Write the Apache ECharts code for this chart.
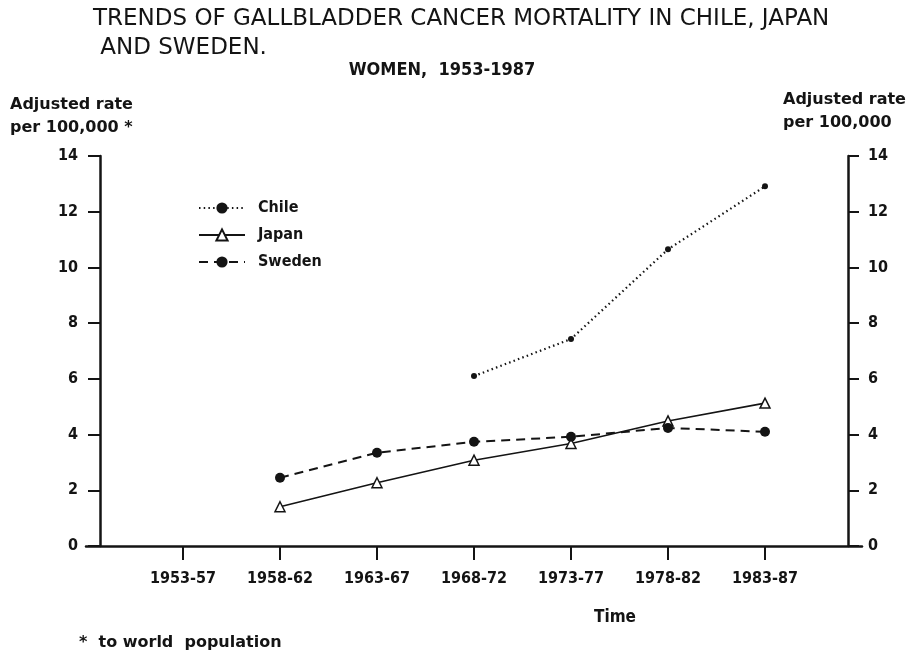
<!DOCTYPE html>
<html>
<head>
<meta charset="utf-8">
<script src="https://cdn.jsdelivr.net/npm/echarts@6/dist/echarts.min.js"></script>
<style>
html,body{margin:0;padding:0;background:#fff;}
#chart{width:911px;height:654px;}
</style>
</head>
<body>
<div id="chart"></div>
<script>
const categories = ['1953-57','1958-62','1963-67','1968-72','1973-77','1978-82','1983-87'];
const chile  = [null, null, null, 6.10, 7.43, 10.65, 12.91];
const japan  = [null, 1.41, 2.27, 3.08, 3.68, 4.49, 5.13];
const sweden = [null, 2.45, 3.35, 3.74, 3.92, 4.24, 4.10];

const FONT = 'DejaVu Sans Condensed';
const WIDE = 'DejaVu Sans';
const INK = '#141414';

function pairs(arr){
  const out = [];
  arr.forEach((v,i)=>{ if(v!==null) out.push([i,v]); });
  return out;
}
const catIdx = categories.map((c,i)=>i);

const chart = echarts.init(document.getElementById('chart'));
chart.setOption({
  backgroundColor:'#ffffff',
  animation:false,
  title:[
    {text:'TRENDS OF GALLBLADDER CANCER MORTALITY IN CHILE, JAPAN\n AND SWEDEN.', left:88, top:0,
     textStyle:{fontFamily:WIDE, fontWeight:'normal', fontSize:23, color:INK, lineHeight:29}},
    {text:'WOMEN,  1953-1987', left:437, top:56, textAlign:'center',
     textStyle:{fontFamily:FONT, fontWeight:'bold', fontSize:18, color:INK}},
    {text:'Adjusted rate\nper 100,000 *', left:5, top:88,
     textStyle:{fontFamily:WIDE, fontWeight:'bold', fontSize:16, color:INK, lineHeight:23}},
    {text:'Adjusted rate\nper 100,000', left:778, top:83,
     textStyle:{fontFamily:WIDE, fontWeight:'bold', fontSize:16, color:INK, lineHeight:23}},
    {text:'Time', left:610, top:604, textAlign:'center',
     textStyle:{fontFamily:FONT, fontWeight:'bold', fontSize:17, color:INK}},
    {text:'*  to world  population', left:74, top:630,
     textStyle:{fontFamily:WIDE, fontWeight:'bold', fontSize:16, color:INK}}
  ],
  legend:{
    left:193, top:195, orient:'vertical', itemWidth:46, itemHeight:14, itemGap:11,
    textStyle:{fontFamily:FONT, fontWeight:'bold', fontSize:16, color:INK, padding:[0,0,0,8]},
    data:['Chile','Japan','Sweden']
  },
  grid:{left:86, right:49, top:156, bottom:108, containLabel:false},
  xAxis:{
    type:'value', min:-1, max:7, interval:1,
    splitLine:{show:false},
    axisLine:{show:true, onZero:false, lineStyle:{color:INK, width:2.5}},
    axisTick:{show:true, length:14, customValues:catIdx, lineStyle:{color:INK, width:2}},
    axisLabel:{customValues:catIdx, margin:25, color:INK, fontFamily:FONT, fontWeight:'bold', fontSize:16,
      formatter:(v)=>categories[Math.round(v)] || ''}
  },
  yAxis:[
    {type:'value', min:0, max:14, interval:2, position:'left', offset:-14,
     splitLine:{show:false},
     axisLine:{show:true, onZero:false, lineStyle:{color:INK, width:2.5}},
     axisTick:{show:true, length:12, lineStyle:{color:INK, width:2}},
     axisLabel:{margin:22, color:INK, fontFamily:FONT, fontWeight:'bold', fontSize:16}},
    {type:'value', min:0, max:14, interval:2, position:'right', offset:-14,
     splitLine:{show:false},
     axisLine:{show:true, onZero:false, lineStyle:{color:INK, width:2.5}},
     axisTick:{show:true, length:11, lineStyle:{color:INK, width:2}},
     axisLabel:{margin:20, color:INK, fontFamily:FONT, fontWeight:'bold', fontSize:16}}
  ],
  series:[
    {name:'Chile', type:'line', data:pairs(chile), symbol:'circle', symbolSize:6,
     lineStyle:{color:INK, width:2.2, type:[1.5,3.2]}, itemStyle:{color:INK}},
    {name:'Japan', type:'line', data:pairs(japan), symbol:'triangle', symbolSize:10,
     lineStyle:{color:INK, width:1.6, type:'solid'}, itemStyle:{color:'#ffffff', borderColor:INK, borderWidth:1.5}},
    {name:'Sweden', type:'line', data:pairs(sweden), symbol:'circle', symbolSize:10,
     lineStyle:{color:INK, width:2, type:[9,6]}, itemStyle:{color:INK}}
  ]
});
</script>
</body>
</html>
